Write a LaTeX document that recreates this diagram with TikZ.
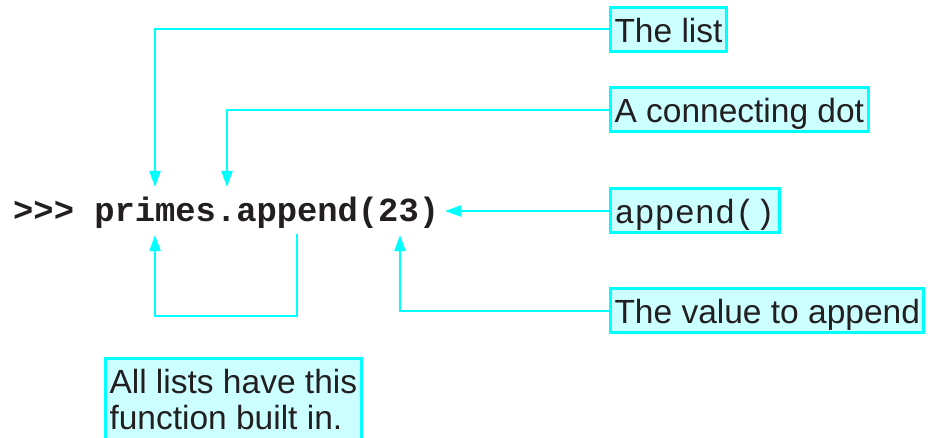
\documentclass[tikz,border=0pt]{standalone}
\usepackage{fontspec}
\setmainfont{Liberation Sans}
\setmonofont{Liberation Mono}
\usetikzlibrary{arrows.meta}
\definecolor{cyline}{RGB}{0,255,255}
\definecolor{cyfill}{RGB}{204,255,255}
\definecolor{ink}{RGB}{35,31,32}
\tikzset{
  boxbase/.style={draw=cyline, fill=cyfill, line width=3pt, inner xsep=4pt, inner ysep=6pt,
    text=ink, font=\fontsize{33.5}{36}\selectfont},
  callout/.style={boxbase, text height=29pt, text depth=3pt, anchor=west},
  pointer/.style={draw=cyline, line width=2pt, -{Triangle[width=11pt,length=16pt]}}
}
\begin{document}
\begin{tikzpicture}[x=1pt,y=-1pt]
\useasboundingbox (0,0) rectangle (928,438);
\clip (0,0) rectangle (928,438);
\node[anchor=base west, inner sep=0pt, text=ink, font=\fontsize{33.8}{37}\selectfont\ttfamily\bfseries] (code) at (13,222) {>{}>{}> primes.append(23)};
\node[callout] (list) at (609,29.5) {The list};
\node[callout] (dot) at (609,110) {A connecting dot};
\node[callout, font=\fontsize{33.5}{37}\selectfont\ttfamily] (app) at (609,211) {append()};
\node[callout] (val) at (609,310.5) {The value to append};
\node[boxbase, anchor=north west, align=left, inner ysep=7pt] (all) at (104,356.5) {\rule{0pt}{28.5pt}All lists have this\\function built in.\rule[-14pt]{0pt}{14pt}};
\coordinate (tlist) at (155,187);
\coordinate (tdot) at (227,187);
\coordinate (tapp) at (445,211);
\coordinate (tval) at (400,235);
\coordinate (bstart) at (297,234);
\coordinate (bcorner) at (297,316);
\coordinate (tbr) at (155,235);
\draw[pointer] (list.west) -| (tlist);
\draw[pointer] (dot.west) -| (tdot);
\draw[pointer] (app.west) -- (tapp);
\draw[pointer] (val.west) -| (tval);
\draw[pointer] (bstart) -- (bcorner) -| (tbr);
\end{tikzpicture}
\end{document}
